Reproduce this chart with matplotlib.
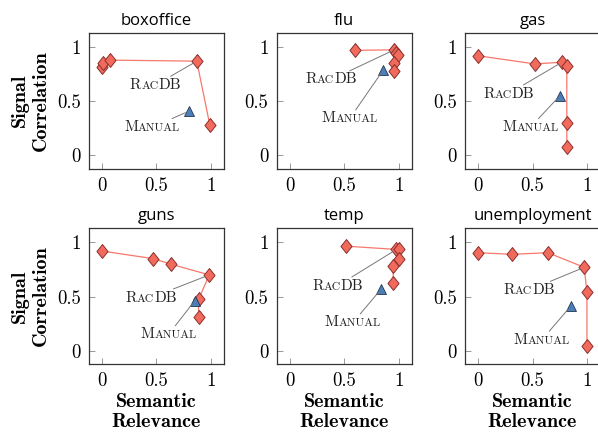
import numpy as np
import matplotlib
matplotlib.use("Agg")
import matplotlib.pyplot as plt
from matplotlib.offsetbox import TextArea, HPacker, AnnotationBbox

plt.rcParams['font.family'] = 'cmr10'
plt.rcParams['axes.formatter.use_mathtext'] = True

# =====================================================
# Data: RacDB front points and Manual baseline per dataset
# =====================================================

datasets = ["boxoffice", "flu", "gas", "guns", "temp", "unemployment"]

# all RacDB configurations (semantic relevance, signal correlation)
racdb_x = {
    "boxoffice": [0.00, 0.01, 0.07, 0.87, 0.99],
    "flu": [0.60, 0.96, 0.98, 0.99, 0.96, 0.96],
    "gas": [0.00, 0.52, 0.77, 0.815, 0.815, 0.815],
    "guns": [0.00, 0.47, 0.63, 0.985, 0.886, 0.886],
    "temp": [0.52, 0.98, 1.00, 1.00, 0.95, 0.95],
    "unemployment": [0.00, 0.31, 0.64, 0.975, 1.00, 1.00],
}
racdb_y = {
    "boxoffice": [0.82, 0.85, 0.88, 0.87, 0.28],
    "flu": [0.97, 0.975, 0.95, 0.93, 0.85, 0.775],
    "gas": [0.92, 0.845, 0.86, 0.83, 0.30, 0.074],
    "guns": [0.92, 0.85, 0.80, 0.70, 0.475, 0.31],
    "temp": [0.965, 0.935, 0.935, 0.85, 0.78, 0.63],
    "unemployment": [0.905, 0.89, 0.905, 0.77, 0.54, 0.046],
}
# indices of points joined by the front line
front_idx = {
    "boxoffice": [2, 3, 4],
    "flu": [0, 1, 2, 3],
    "gas": [0, 1, 2, 3, 4, 5],
    "guns": [0, 1, 2, 3, 4, 5],
    "temp": [0, 1, 2, 3, 4, 5],
    "unemployment": [0, 1, 2, 3, 4, 5],
}
# which RacDB point the label points at
racdb_pin = {"boxoffice": 3, "flu": 1, "gas": 2, "guns": 3, "temp": 1, "unemployment": 3}

manual_x = [0.80, 0.86, 0.75, 0.85, 0.84, 0.85]
manual_y = [0.41, 0.79, 0.55, 0.46, 0.57, 0.41]

# label placement (layout only)
racdb_label_pos = [(0.49, 0.65), (0.38, 0.70), (0.28, 0.57), (0.45, 0.49), (0.44, 0.60), (0.47, 0.56)]
manual_label_pos = [(0.46, 0.26), (0.55, 0.34), (0.48, 0.26), (0.61, 0.15), (0.58, 0.26), (0.585, 0.10)]

ticks = [0, 0.5, 1]
tick_labels = ["0", "0.5", "1"]

line_col = "#f7786c"
face_col = "#f06b5b"
edge_col = "#8b2e2e"
tri_col = "#4c7fb8"
tri_edge = "#22374f"

# diamond a bit taller than wide, like the pgfplots one
diamond = [(0, 1), (0.8, 0), (0, -1), (-0.8, 0), (0, 1)]


def small_caps(first, rest, tail=""):
    big = dict(fontfamily="cmr10", fontsize=11, color="#222222")
    small = dict(fontfamily="cmr10", fontsize=8.4, color="#222222")
    parts = [TextArea(first, textprops=big), TextArea(rest, textprops=small)]
    if tail:
        parts.append(TextArea(tail, textprops=big))
    return HPacker(children=parts, pad=0, sep=0, align="baseline")


def pin(ax, box, xy, pos):
    ab = AnnotationBbox(box, xy, xybox=pos, xycoords="data", boxcoords="data",
                        frameon=False, pad=0.1,
                        arrowprops=dict(arrowstyle="-", color="#777777", lw=0.7,
                                        shrinkA=0, shrinkB=3))
    ax.add_artist(ab)


# =====================================================
# Figure
# =====================================================

fig = plt.figure(figsize=(5.98, 4.33), dpi=100)
W, H = 598.0, 433.0
lefts = [89, 276.7, 465]
tops = [33, 228.3]
aw, ah = 135, 135.5

for i, name in enumerate(datasets):
    r, c = divmod(i, 3)
    ax = fig.add_axes([lefts[c] / W, 1 - (tops[r] + ah) / H, aw / W, ah / H])

    xs = np.array(racdb_x[name])
    ys = np.array(racdb_y[name])
    idx = front_idx[name]
    ax.plot(xs[idx], ys[idx], color=line_col, lw=0.9, zorder=2)
    ax.plot(xs, ys, linestyle="none", marker=diamond, markersize=10,
            markerfacecolor=face_col, markeredgecolor=edge_col, markeredgewidth=0.7, zorder=3)
    ax.plot(manual_x[i], manual_y[i], linestyle="none", marker="^", markersize=7,
            markerfacecolor=tri_col, markeredgecolor=tri_edge, markeredgewidth=0.6, zorder=3)

    p = racdb_pin[name]
    pin(ax, small_caps("R", "AC", "DB"), (xs[p], ys[p]), racdb_label_pos[i])
    pin(ax, small_caps("M", "ANUAL"), (manual_x[i], manual_y[i]), manual_label_pos[i])

    ax.set_xlim(-0.12, 1.12)
    ax.set_ylim(-0.12, 1.13)
    ax.set_xticks(ticks, tick_labels)
    ax.set_yticks(ticks, tick_labels)
    ax.tick_params(direction="in", length=4, width=0.6, color="#888888",
                   labelsize=13.5, pad=6)
    for s in ax.spines.values():
        s.set_linewidth(0.9)
        s.set_color("#333333")
    ax.set_title(name, fontfamily="Open Sans", fontsize=12, pad=6)

    if c == 0:
        ax.set_ylabel("Signal\nCorrelation", fontfamily="cmb10", fontsize=14.5,
                      linespacing=1.2, labelpad=5)
    if r == 1:
        ax.set_xlabel("Semantic\nRelevance", fontfamily="cmb10", fontsize=14.5,
                      linespacing=1.15, labelpad=2)

plt.savefig("out.png", dpi=100)
